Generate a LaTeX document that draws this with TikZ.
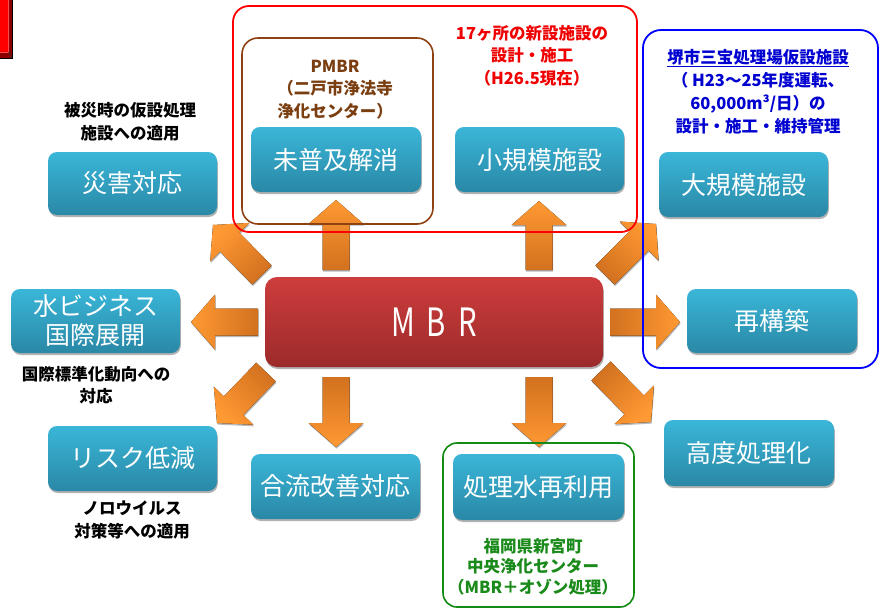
\documentclass[tikz,border=0pt]{standalone}
\usepackage{fontspec}
\setmainfont{Noto Sans CJK JP}
\newfontfamily\mbrfont{Noto Sans CJK JP}[FakeStretch=0.75]
\usetikzlibrary{shadows,calc}
\definecolor{boxT}{HTML}{3AB6D8}
\definecolor{boxB}{HTML}{2A88A6}
\definecolor{mbrT}{HTML}{CE3D3D}
\definecolor{mbrB}{HTML}{9C2A2A}
\definecolor{orL}{HTML}{FF9933}
\definecolor{orD}{HTML}{D2711F}
\definecolor{frRed}{HTML}{FF0000}
\definecolor{frBlue}{HTML}{0000FF}
\definecolor{frGreen}{HTML}{138A13}
\definecolor{frBrown}{HTML}{8E4212}
\definecolor{txRed}{HTML}{F00000}
\definecolor{txBlue}{HTML}{0000D0}
\definecolor{txGreen}{HTML}{1A8A1A}
\definecolor{txBrown}{HTML}{7A3E10}
\definecolor{darkRed}{HTML}{8A0000}
\tikzset{
  tbox/.style={rounded corners=9pt, top color=boxT, bottom color=boxB, text=white,
    font=\fontsize{25}{29}\selectfont, align=center, inner sep=0pt,
    drop shadow={shadow xshift=0.8pt, shadow yshift=-2pt, opacity=0.5, fill=black!60}},
  anno/.style={align=center, font=\fontsize{16.5}{22.5}\selectfont\bfseries, inner sep=0pt},
  grpframe/.style={rounded corners=16pt, line width=1.8pt},
  orshape/.style={top color=orL, bottom color=orD, shading angle=#1,
    drop shadow={shadow xshift=0.6pt, shadow yshift=-1.6pt, opacity=0.45, fill=black!60}},
}
\newcommand{\blockarr}[3]{%
  \coordinate (hb) at ($(#2)!24pt!(#1)$);
  \fill[orshape=#3] ($(#1)!13.5pt!90:(#2)$) -- ($(hb)!13.5pt!90:(#2)$) -- ($(hb)!27.5pt!90:(#2)$) -- (#2)
    -- ($(hb)!27.5pt!-90:(#2)$) -- ($(hb)!13.5pt!-90:(#2)$) -- ($(#1)!13.5pt!-90:(#2)$) -- cycle;}
\begin{document}
\begin{tikzpicture}[x=1pt,y=-1pt]
\useasboundingbox (0,0) rectangle (880,610);
\fill[white] (0,0) rectangle (880,610);

% top-left red block
\fill[red] (0,0) rectangle (12.5,58.5);
\fill[darkRed] (8.5,0) -- (12.5,0) -- (12.5,58.5) -- (0,58.5) -- (0,52) -- (8.5,52) -- cycle;
\draw[red!70!white, line width=0.6pt] (0,52) -- (8.5,52) -- (8.5,0);
\draw[black!80, line width=0.6pt] (8.5,52) -- (12.5,58.5);
\draw[black, line width=0.9pt] (12.5,0) -- (12.5,58.5) -- (0,58.5);

% arrows
\coordinate (a1s) at (336,270); \coordinate (a1t) at (336,200);
\coordinate (a2s) at (539,270); \coordinate (a2t) at (539,201);
\coordinate (a3s) at (262,275); \coordinate (a3t) at (213,225);
\coordinate (a4s) at (605,275); \coordinate (a4t) at (656,224);
\coordinate (a5s) at (258,322); \coordinate (a5t) at (191,322);
\coordinate (a6s) at (610,322); \coordinate (a6t) at (680,322);
\coordinate (a7s) at (266,372); \coordinate (a7t) at (217,423);
\coordinate (a8s) at (601,371); \coordinate (a8t) at (651,422);
\coordinate (a9s) at (336,377); \coordinate (a9t) at (336,447);
\coordinate (a10s) at (539,377); \coordinate (a10t) at (539,447);
\blockarr{a1s}{a1t}{0}
\blockarr{a2s}{a2t}{0}
\blockarr{a3s}{a3t}{45}
\blockarr{a4s}{a4t}{-45}
\blockarr{a5s}{a5t}{90}
\blockarr{a6s}{a6t}{-90}
\blockarr{a7s}{a7t}{135}
\blockarr{a8s}{a8t}{-135}
\blockarr{a9s}{a9t}{180}
\blockarr{a10s}{a10t}{180}

% MBR
\node[rounded corners=12pt, top color=mbrT, bottom color=mbrB, minimum width=338pt, minimum height=90pt,
  inner sep=0pt, text=white, font=\mbrfont\fontsize{39}{40}\selectfont,
  drop shadow={shadow xshift=0.8pt, shadow yshift=-2pt, opacity=0.5, fill=black!60}]
  (mbr) at (434,322) {M\hspace{12pt}B\hspace{12pt}R};

% boxes
\node[tbox, minimum width=169pt, minimum height=63pt] (saigai) at (132.5,183.5) {災害対応};
\node[tbox, minimum width=170pt, minimum height=65pt] (fukyu) at (336,159.5) {未普及解消};
\node[tbox, minimum width=169pt, minimum height=65pt] (shoki) at (539.5,159.5) {小規模施設};
\node[tbox, minimum width=169pt, minimum height=65pt] (daiki) at (743.5,184.5) {大規模施設};
\node[tbox, minimum width=170pt, minimum height=64pt] (saiko) at (772,321) {再構築};
\node[tbox, minimum width=169pt, minimum height=64pt] (mizu) at (95.5,321) {水ビジネス\\国際展開};
\node[tbox, minimum width=169pt, minimum height=65pt] (risk) at (132.5,458.5) {リスク低減};
\node[tbox, minimum width=169pt, minimum height=65pt] (goryu) at (335.5,486.5) {合流改善対応};
\node[tbox, minimum width=171pt, minimum height=66pt] (sairiyo) at (538.5,487) {処理水再利用};
\node[tbox, minimum width=170pt, minimum height=66pt] (kodo) at (749,453) {高度処理化};

% frames
\draw[grpframe, frRed] (233,6) rectangle (637,232);
\draw[grpframe, frBrown, line width=1.6pt] (242,38) rectangle (433,224);
\draw[grpframe, frBlue, rounded corners=18pt] (643,30) rectangle (878,368);
\draw[grpframe, frGreen, line width=1.6pt, rounded corners=14pt] (443,443) rectangle (634,607);

% annotations
\node[anno] (t1) at (130,122) {被災時の仮設処理\\施設への適用};
\node[anno, text=txBrown] (t2) at (335,89.5) {PMBR\\（二戸市浄法寺\\浄化センター）};
\node[anno, text=txRed] (t3) at (532,55.5) {17ヶ所の新設施設の\\設計・施工\\（H26.5現在）};
\node[anno, text=txBlue, font=\fontsize{16.5}{23}\selectfont\bfseries] (t4) at (758,91.5)
  {\underline{堺市三宝処理場仮設施設}\\（ H23～25年度運転、\\60,000m³/日）の\\設計・施工・維持管理};
\node[anno] (t5) at (96,385) {国際標準化動向への\\対応};
\node[anno] (t6) at (132,520) {ノロウイルス\\対策等への適用};
\node[anno, text=txGreen, font=\fontsize{16.5}{20.5}\selectfont\bfseries] (t7) at (533,566.5)
  {福岡県新宮町\\中央浄化センター\\（MBR＋オゾン処理）};
\end{tikzpicture}
\end{document}
